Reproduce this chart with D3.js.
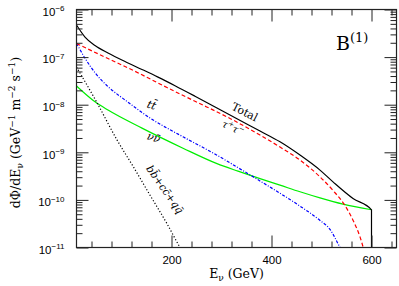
<!DOCTYPE html>
<html>
<head>
<meta charset="utf-8">
<script src="https://cdn.jsdelivr.net/npm/d3@7"></script>
<style>
  body { margin: 0; background: #fff; }
  svg { display: block; }
</style>
</head>
<body>
<script>
// values: energy in GeV, flux in GeV^-1 m^-2 s^-1
const totalE    = [10, 27, 47, 73, 107, 141, 173, 207, 247, 317, 377, 417, 457, 497, 523, 563, 600, 600];
const totalFlux = [4.72e-7, 2.64e-7, 1.75e-7, 1.22e-7, 8.07e-8, 5.5e-8, 3.8e-8, 2.51e-8, 1.51e-8,
                   6.05e-9, 2.79e-9, 1.66e-9, 8.73e-10, 4.22e-10, 2.39e-10, 1.07e-10, 6.2e-11, 1e-11];

const tauE    = [10, 73, 124, 191, 247, 317, 377, 417, 457, 497, 523, 547, 563, 577, 584, 590];
const tauFlux = [1.93e-7, 9.33e-8, 5.21e-8, 2.29e-8, 1.18e-8, 5.15e-9, 2.30e-9, 1.29e-9, 6.86e-10,
                 3.05e-10, 1.58e-10, 7.6e-11, 3.75e-11, 1.67e-11, 9.5e-12, 5e-12];

const topE    = [10, 27, 47, 73, 107, 157, 224, 291, 317, 377, 417, 457, 497, 517, 537, 545];
const topFlux = [1.95e-7, 9.5e-8, 4.7e-8, 2.4e-8, 1.26e-8, 5.25e-9, 2.09e-9, 8.7e-10, 6.0e-10,
                 2.5e-10, 1.38e-10, 7.4e-11, 3.7e-11, 2.4e-11, 1e-11, 7e-12];

const nuE    = [10, 47, 73, 141, 223, 291, 333, 377, 417, 457, 497, 543, 600];
const nuFlux = [2.47e-8, 1.15e-8, 7.71e-9, 3.22e-9, 1.22e-9, 5.78e-10, 4.02e-10, 2.80e-10, 2.04e-10,
                1.48e-10, 1.10e-10, 8.13e-11, 6.2e-11];

const quarkE    = [10, 50, 91, 124, 157, 191, 217, 225];
const quarkFlux = [6.17e-8, 1.15e-8, 1.82e-9, 4.9e-10, 1.26e-10, 3.16e-11, 1e-11, 7.2e-12];

const xMajor = [200, 400, 600];
const xMinor = d3.range(40, 650, 40).filter(v => v % 200 !== 0);
const yMajor = [1e-11, 1e-10, 1e-9, 1e-8, 1e-7, 1e-6];
const yMinor = d3.range(-11, -6).flatMap(e => d3.range(2, 10).map(k => k * Math.pow(10, e)));

const width = 399, height = 286;
const plotLeft = 76.5, plotRight = 396.5, plotTop = 9.5, plotBottom = 247.5;
const serif = "DejaVu Serif, serif";
const sans = "Liberation Sans, Arial, sans-serif";

const svg = d3.select("body").append("svg")
  .attr("width", width)
  .attr("height", height);

const x = d3.scaleLinear().domain([10, 650]).range([plotLeft, plotRight]);
const y = d3.scaleLog().domain([1e-11, 1e-6]).range([plotBottom, plotTop]);

svg.append("clipPath").attr("id", "plot")
  .append("rect")
  .attr("x", plotLeft).attr("y", plotTop)
  .attr("width", plotRight - plotLeft).attr("height", plotBottom - plotTop);

// curves
const line = d3.line()
  .x(d => x(d[0]))
  .y(d => y(d[1]))
  .curve(d3.curveMonotoneX);

const series = [
  { e: nuE, f: nuFlux, color: "#00ee00", dash: null },
  { e: quarkE, f: quarkFlux, color: "#000", dash: "1.2 2" },
  { e: topE, f: topFlux, color: "#0000ff", dash: "3 1.6 1 1.6" },
  { e: tauE, f: tauFlux, color: "#ff0000", dash: "4 2.5" },
  { e: totalE, f: totalFlux, color: "#000", dash: null }
];

svg.append("g")
  .attr("clip-path", "url(#plot)")
  .selectAll("path")
  .data(series)
  .join("path")
  .attr("d", s => line(d3.zip(s.e, s.f)))
  .attr("fill", "none")
  .attr("stroke", s => s.color)
  .attr("stroke-width", 1.2)
  .attr("stroke-dasharray", s => s.dash);

// axes, ticks pointing inward on all four sides
function styleAxis(g) {
  g.select(".domain").remove();
  g.selectAll(".tick line").attr("stroke", "#222");
}

svg.append("g")
  .attr("transform", `translate(0,${plotBottom})`)
  .call(d3.axisBottom(x).tickValues(xMajor).tickSize(-12).tickPadding(8).tickFormat(d3.format("d")))
  .call(styleAxis)
  .call(g => g.selectAll("text")
    .attr("font-family", sans)
    .attr("font-size", 11.5)
    .attr("fill", "#000"));

svg.append("g")
  .attr("transform", `translate(0,${plotBottom})`)
  .call(d3.axisBottom(x).tickValues(xMinor).tickSize(-6).tickFormat(""))
  .call(styleAxis);

svg.append("g")
  .attr("transform", `translate(0,${plotTop})`)
  .call(d3.axisTop(x).tickValues(xMajor).tickSize(-12).tickFormat(""))
  .call(styleAxis);

svg.append("g")
  .attr("transform", `translate(0,${plotTop})`)
  .call(d3.axisTop(x).tickValues(xMinor).tickSize(-6).tickFormat(""))
  .call(styleAxis);

svg.append("g")
  .attr("transform", `translate(${plotLeft},0)`)
  .call(d3.axisLeft(y).tickValues(yMajor).tickSize(-12).tickPadding(12))
  .call(styleAxis)
  .call(g => g.selectAll(".tick text").each(function(d) {
    const t = d3.select(this)
      .text(null)
      .attr("dy", "0.5em")
      .attr("font-family", sans)
      .attr("font-size", 11.5)
      .attr("fill", "#000");
    t.append("tspan").text("10");
    t.append("tspan")
      .attr("dy", "-0.55em")
      .attr("font-size", 8)
      .text("\u2212" + Math.round(-Math.log10(d)));
  }));

svg.append("g")
  .attr("transform", `translate(${plotLeft},0)`)
  .call(d3.axisLeft(y).tickValues(yMinor).tickSize(-6).tickFormat(""))
  .call(styleAxis);

svg.append("g")
  .attr("transform", `translate(${plotRight},0)`)
  .call(d3.axisRight(y).tickValues(yMajor).tickSize(-12).tickFormat(""))
  .call(styleAxis);

svg.append("g")
  .attr("transform", `translate(${plotRight},0)`)
  .call(d3.axisRight(y).tickValues(yMinor).tickSize(-6).tickFormat(""))
  .call(styleAxis);

svg.append("rect")
  .attr("x", plotLeft).attr("y", plotTop)
  .attr("width", plotRight - plotLeft).attr("height", plotBottom - plotTop)
  .attr("fill", "none")
  .attr("stroke", "#222")
  .attr("stroke-width", 1.2);

// axis titles
const xt = svg.append("text")
  .attr("x", (plotLeft + plotRight) / 2)
  .attr("y", 278)
  .attr("text-anchor", "middle")
  .attr("font-family", serif)
  .attr("font-size", 12.5);
xt.append("tspan").text("E");
xt.append("tspan").attr("dy", 3).attr("font-size", 9).text("\u03bd");
xt.append("tspan").attr("dy", -3).text("\u00a0(GeV)");

const yt = svg.append("text")
  .attr("transform", `translate(20,${(plotTop + plotBottom) / 2 + 4}) rotate(-90)`)
  .attr("text-anchor", "middle")
  .attr("font-family", serif)
  .attr("font-size", 12.5);
yt.append("tspan").text("d\u03a6/dE");
yt.append("tspan").attr("dy", 3).attr("font-size", 9).text("\u03bd");
yt.append("tspan").attr("dy", -3).text("\u00a0(GeV");
yt.append("tspan").attr("dy", -5).attr("font-size", 9).text("\u22121");
yt.append("tspan").attr("dy", 5).text("\u00a0m");
yt.append("tspan").attr("dy", -5).attr("font-size", 9).text("\u22122");
yt.append("tspan").attr("dy", 5).text("\u00a0s");
yt.append("tspan").attr("dy", -5).attr("font-size", 9).text("\u22121");
yt.append("tspan").attr("dy", 5).text(")");

// model label
const bt = svg.append("text")
  .attr("x", 336)
  .attr("y", 50)
  .attr("font-family", serif)
  .attr("font-size", 19);
bt.append("tspan").text("B");
bt.append("tspan").attr("dy", -8).attr("font-size", 13).text("(1)");

// curve labels, placed in data coordinates
const labels = [
  { e: 343, f: 6.0e-9, angle: 27, size: 11, parts: [["Total", 0, null]] },
  { e: 320, f: 2.8e-9, angle: 25, size: 10, parts: [["\u03c4", 0, null], ["+", -4, 7], ["\u03c4", 4, null], ["\u2212", -4, 7]] },
  { e: 158, f: 8.3e-9, angle: 18, size: 11, parts: [["tt\u0304", 0, null]] },
  { e: 162, f: 1.72e-9, angle: 18, size: 11, parts: [["\u03bd\u03bd\u0304", 0, null]] },
  { e: 181, f: 1.5e-10, angle: 55, size: 10.5, parts: [["bb\u0304+cc\u0304+qq\u0304", 0, null]] }
];

labels.forEach(l => {
  const t = svg.append("text")
    .attr("transform", `translate(${x(l.e)},${y(l.f)}) rotate(${l.angle})`)
    .attr("text-anchor", "middle")
    .attr("dy", "0.35em")
    .attr("font-family", serif)
    .attr("font-style", l.parts[0][0] === "Total" ? "normal" : "italic")
    .attr("font-size", l.size);
  l.parts.forEach(p => {
    const s = t.append("tspan").attr("dy", p[1]).text(p[0]);
    if (p[2]) s.attr("font-size", p[2]);
  });
});
</script>
</body>
</html>
